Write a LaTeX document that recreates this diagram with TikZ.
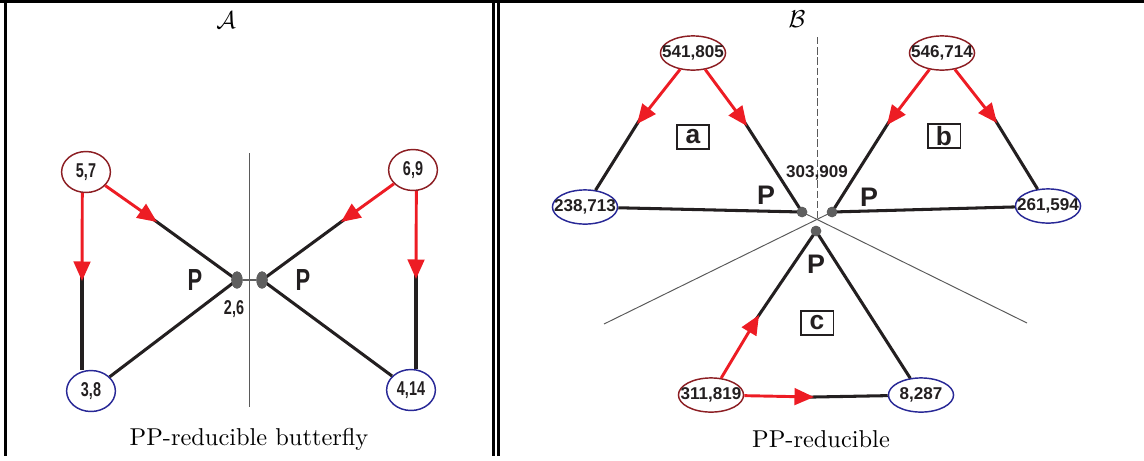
\documentclass[tikz,border=0pt]{standalone}
\usepackage{fontspec}
\usetikzlibrary{arrows.meta,shapes.geometric}
\newfontfamily\arialfont{Liberation Sans}
\newfontfamily\condfont{Liberation Sans}[FakeStretch=0.72]
\definecolor{arrred}{RGB}{237,28,36}
\definecolor{topred}{RGB}{140,30,35}
\definecolor{botblue}{RGB}{40,40,150}
\definecolor{dotgray}{RGB}{95,95,95}
\definecolor{linegray}{RGB}{90,90,90}
\definecolor{inkdark}{RGB}{35,31,32}
\newcommand\zw[1]{\makebox[0pt]{#1}}
\tikzset{
  frameline/.style={line width=1.1pt,black},
  ellA/.style={ellipse,draw,line width=0.6pt,minimum width=20pt,minimum height=16.8pt,inner sep=0pt,
     text=inkdark,font=\condfont\bfseries\fontsize{8.2}{9}\selectfont},
  ellB/.style={ellipse,draw,line width=0.6pt,minimum width=26.7pt,minimum height=14pt,inner sep=0pt,
     text=inkdark,font=\arialfont\bfseries\fontsize{7}{8}\selectfont},
  topn/.style={draw=topred},
  botn/.style={draw=botblue},
  redarr/.style={draw=arrred,line width=1.2pt,-{Triangle[length=8pt,width=6.8pt]}},
  blackedge/.style={draw=inkdark,line width=1.25pt},
  fromtip/.style={blackedge,shorten <=-2.5pt},
  thinline/.style={draw=linegray,line width=0.4pt},
  dotA/.style={ellipse,fill=dotgray,inner sep=0pt,minimum width=4.6pt,minimum height=7pt},
  dotB/.style={circle,fill=dotgray,inner sep=0pt,minimum size=4.3pt},
  plabA/.style={text=inkdark,font=\condfont\bfseries\fontsize{12.5}{14}\selectfont,inner sep=0pt},
  plabB/.style={text=inkdark,font=\arialfont\bfseries\fontsize{11}{12}\selectfont,inner sep=0pt},
  boxlab/.style={draw=inkdark,line width=0.6pt,minimum width=13.3pt,minimum height=9.8pt,inner sep=0pt,
     text=inkdark,font=\arialfont\bfseries\fontsize{10.8}{11}\selectfont},
  caption/.style={font=\fontsize{10}{12}\selectfont,inner sep=0pt},
}
\begin{document}
\begin{tikzpicture}[x=0.41pt,y=-0.41pt]
\useasboundingbox (0,0) rectangle (1144,460);
% frame
\draw[frameline] (0,1.3) -- (1144,1.3);
\draw[frameline] (5.3,0) -- (5.3,456);
\draw[frameline] (493.7,0) -- (493.7,456);
\draw[frameline] (498.7,0) -- (498.7,456);

% ===== Panel A =====
\node[caption] (titA) at (226,20) {$\mathcal{A}$};
\node[caption] (capA) at (249,439) {PP-reducible butterfly};
\coordinate (vA1) at (249,153);
\coordinate (vA2) at (249,407);
\draw[thinline] (vA1) -- (vA2);

\node[ellA,topn] (n57) at (86,172) {\zw{5,7}};
\node[ellA,topn] (n69) at (413,170) {\zw{6,9}};
\node[ellA,botn] (n38) at (91,391) {\zw{3,8}};
\node[ellA,botn] (n414) at (411,390) {\zw{4,14}};

\node[dotA] (dL) at (237,280) {};
\node[dotA] (dR) at (262,280) {};
\draw[draw=dotgray,line width=0.6pt] (dL) -- (dR);

\coordinate (aL) at (157,222);
\coordinate (aL2) at (82,281);
\coordinate (aR) at (341,222);
\coordinate (aR2) at (416,279);

\draw[fromtip] (aL) -- (dL.center);
\draw[fromtip] (aL2) -- (aL2 |- n38.north);
\draw[blackedge] (dL.center) -- (n38);
\draw[fromtip] (aR) -- (dR.center);
\draw[fromtip] (aR2) -- (aR2 |- n414.north);
\draw[blackedge] (dR.center) -- (n414);

\draw[redarr] (n57) -- (aL);
\draw[redarr] (n57.260) -- (aL2);
\draw[redarr] (n69) -- (aR);
\draw[redarr] (n69.279) -- (aR2);

\node[dotA] at (dL) {};
\node[dotA] at (dR) {};

\node[plabA] (pA1) at (195,280) {P};
\node[plabA] (pA2) at (303,280) {P};
\node[text=inkdark,font=\condfont\bfseries\fontsize{8.2}{9}\selectfont,inner sep=0pt] (l26) at (234,309) {2,6};

% ===== Panel B =====
\node[caption] (titB) at (797,19) {$\mathcal{B}$};
\node[caption] (capB) at (821,439) {PP-reducible};

\node[ellB,topn] (nA1) at (693,53) {\zw{541,805}};
\node[ellB,botn] (nA2) at (585,207) {\zw{238,713}};
\node[ellB,topn] (nB1) at (942,53) {\zw{546,714}};
\node[ellB,botn] (nB2) at (1048,206) {\zw{261,594}};
\node[ellB,topn] (nC1) at (711,395) {\zw{311,819}};
\node[ellB,botn] (nC2) at (921,395) {\zw{8,287}};

\node[dotB] (da) at (802,212) {};
\node[dotB] (db) at (832,212) {};
\node[dotB] (dc) at (816,231) {};
\coordinate (cen) at (817,219);
\coordinate (vtop) at (817,37);
\coordinate (llL) at (604,324);
\coordinate (llR) at (1027,323);

\draw[thinline,dashed,dash pattern=on 3pt off 1.2pt] (vtop) -- (cen);
\draw[thinline] (db.center) -- (llL);
\draw[thinline] (da.center) -- (llR);

\coordinate (ta1) at (637,124);
\coordinate (ta2) at (747,126);
\coordinate (tb1) at (887,125);
\coordinate (tb2) at (997,123);
\coordinate (tc1) at (759,315);
\coordinate (tc2) at (814,397);

\draw[fromtip] (ta1) -- (nA2);
\draw[fromtip] (ta2) -- (da.center);
\draw[blackedge] (nA2) -- (da.center);
\draw[fromtip] (tb1) -- (db.center);
\draw[fromtip] (tb2) -- (nB2);
\draw[blackedge] (db.center) -- (nB2);
\draw[fromtip] (tc1) -- (dc.center);
\draw[fromtip] (tc2) -- (nC2);
\draw[blackedge] (dc.center) -- (nC2);

\draw[redarr] (nA1) -- (ta1);
\draw[redarr] (nA1) -- (ta2);
\draw[redarr] (nB1) -- (tb1);
\draw[redarr] (nB1) -- (tb2);
\draw[redarr] (nC1) -- (tc1);
\draw[redarr] (nC1) -- (tc2);

\node[dotB] at (da) {};
\node[dotB] at (db) {};
\node[dotB] at (dc) {};

\node[boxlab] (ba) at (693,137) {a};
\node[boxlab] (bb) at (944,136) {b};
\node[boxlab] (bc) at (817,323) {c};

\node[plabB] (pB1) at (766,195) {P};
\node[plabB] (pB2) at (869,197) {P};
\node[plabB] (pB3) at (816,264) {P};
\node[text=inkdark,font=\arialfont\bfseries\fontsize{7}{8}\selectfont,inner sep=0pt] (l303) at (817,173) {303,909};
\end{tikzpicture}
\end{document}
